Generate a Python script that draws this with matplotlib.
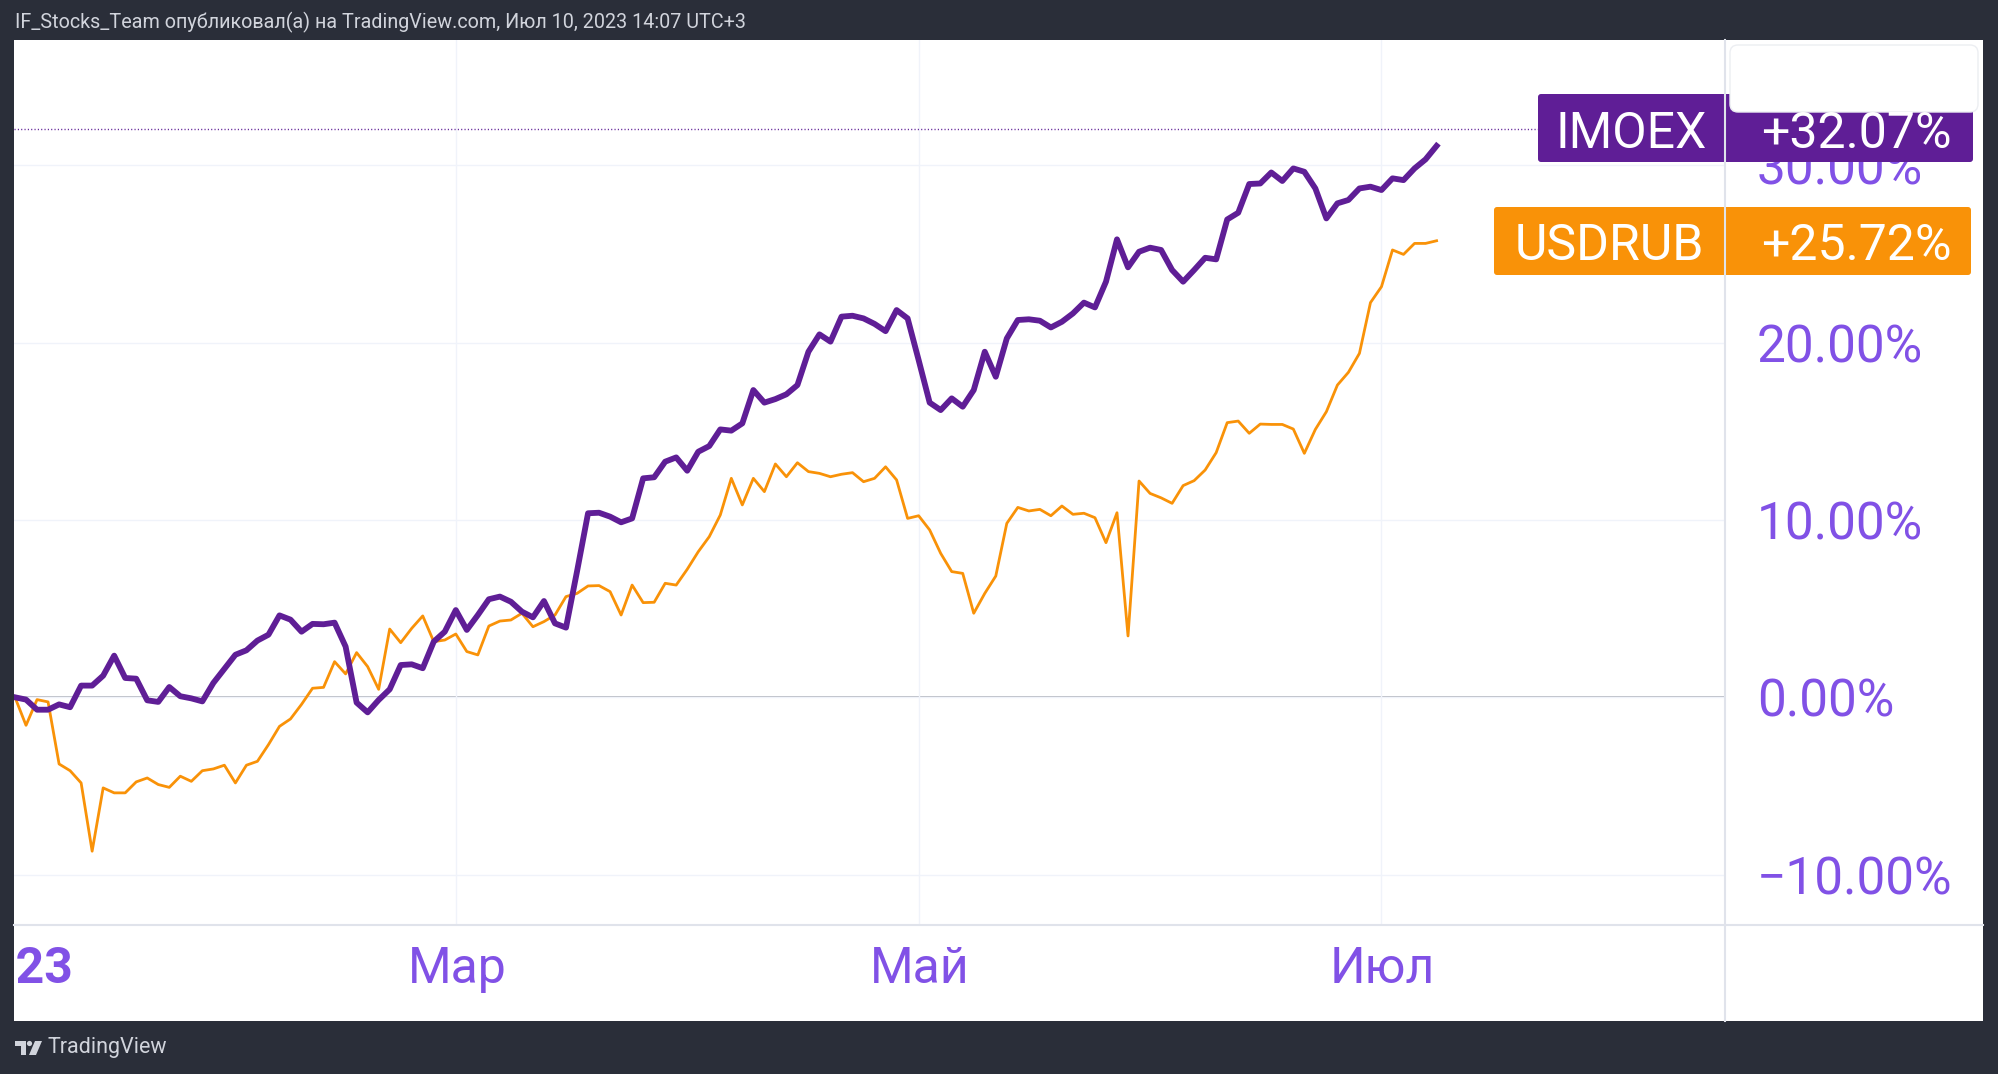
import matplotlib
matplotlib.use('Agg')
import matplotlib.pyplot as plt
import matplotlib.transforms as mtransforms
from matplotlib.patches import Rectangle, FancyBboxPatch, Polygon, Circle
from matplotlib.lines import Line2D
from matplotlib.ticker import FuncFormatter

plt.rcParams['font.family'] = ['Roboto', 'DejaVu Sans']

# ---------------- data (percent change since 3 Jan 2023, one value per trading day) ----------------
imoex = [0.0, -0.13, -0.7, -0.7, -0.4, -0.56, 0.66, 0.66, 1.22, 2.35,
         1.09, 1.05, -0.17, -0.26, 0.58, 0.06, -0.06, -0.23, 0.81, 1.6,
         2.4, 2.65, 3.2, 3.53, 4.62, 4.38, 3.7, 4.14, 4.12, 4.21,
         2.86, -0.3, -0.85, -0.15, 0.45, 1.82, 1.86, 1.64, 3.14, 3.7,
         4.92, 3.8, 4.64, 5.53, 5.68, 5.39, 4.83, 4.51, 5.43, 4.17,
         3.93, 7.1, 10.38, 10.41, 10.19, 9.87, 10.09, 12.35, 12.41, 13.29,
         13.53, 12.78, 13.85, 14.17, 15.11, 15.04, 15.45, 17.33, 16.62, 16.82,
         17.09, 17.61, 19.49, 20.47, 20.06, 21.47, 21.52, 21.37, 21.06, 20.65,
         21.84, 21.37, 19.02, 16.62, 16.2, 16.86, 16.39, 17.33, 19.49, 18.08,
         20.24, 21.28, 21.32, 21.24, 20.86, 21.18, 21.65, 22.26, 21.99, 23.44,
         25.83, 24.25, 25.13, 25.36, 25.23, 24.1, 23.44, 24.1, 24.79, 24.7,
         26.95, 27.33, 28.95, 28.98, 29.6, 29.12, 29.83, 29.64, 28.7, 27.01,
         27.86, 28.05, 28.7, 28.8, 28.61, 29.27, 29.17, 29.83, 30.34, 31.1]

usdrub = [0.0, -1.58, -0.13, -0.26, -3.76, -4.14, -4.83, -8.68, -5.11, -5.39,
          -5.39, -4.77, -4.55, -4.92, -5.08, -4.45, -4.74, -4.14, -4.04, -3.83,
          -4.83, -3.83, -3.61, -2.67, -1.64, -1.22, -0.4, 0.51, 0.56, 2.01,
          1.32, 2.52, 1.73, 0.45, 3.85, 3.08, 3.89, 4.59, 3.14, 3.23,
          3.57, 2.58, 2.39, 4.02, 4.3, 4.36, 4.74, 3.98, 4.27, 4.64,
          5.68, 5.86, 6.28, 6.3, 5.96, 4.64, 6.33, 5.34, 5.36, 6.43,
          6.33, 7.22, 8.21, 9.06, 10.28, 12.35, 10.85, 12.35, 11.6, 13.16,
          12.44, 13.23, 12.73, 12.63, 12.44, 12.58, 12.67, 12.16, 12.35, 13.0,
          12.26, 10.09, 10.24, 9.44, 8.12, 7.09, 6.99, 4.74, 5.86, 6.84,
          9.81, 10.71, 10.51, 10.6, 10.24, 10.79, 10.32, 10.38, 10.13, 8.72,
          10.41, 3.46, 12.2, 11.5, 11.25, 10.94, 11.94, 12.22, 12.82, 13.8,
          15.49, 15.58, 14.89, 15.41, 15.39, 15.39, 15.13, 13.76, 15.11, 16.11,
          17.61, 18.33, 19.4, 22.26, 23.16, 25.23, 24.98, 25.6, 25.6, 25.75]

bars = list(range(len(imoex)))
month_ticks = [0, 40, 82, 124]
month_labels = ['2023', 'Мар', 'Май', 'Июл']
y_ticks = [-10, 0, 10, 20, 30]
series_names = ['IMOEX', 'USDRUB']
last_values = [32.07, 25.72]
header = "IF_Stocks_Team опубликовал(а) на TradingView.com, Июл 10, 2023 14:07 UTC+3"
brand = "TradingView"

# ---------------- styling ----------------
W, H = 1999, 1074
BG = '#2a2e39'
PURPLE = '#5f1e96'
ORANGE = '#f99208'
LABEL = '#8151e6'
GRID = '#f0f3fa'
BORDER = '#e0e3eb'
HEAD = '#d1d4dc'
BAR_PX = 11.02          # pixel spacing of one bar
FIRST_BAR_X = 15        # pixel x of first bar
ZERO_Y = 697.3          # pixel y of 0 %
PX_PER_PCT = 17.73

fig = plt.figure(figsize=(W / 100, H / 100), dpi=100, facecolor=BG)
IDT = mtransforms.IdentityTransform()


def fx(x):
    return x / W


def fy(y):
    return 1 - y / H


def rect(x0, y0, x1, y1):
    return [fx(x0), fy(y1), fx(x1) - fx(x0), fy(y0) - fy(y1)]


def box(x0, y0, x1, y1, fc, r=3, z=5, ec='none', lw=0):
    p = FancyBboxPatch((x0, H - y1), x1 - x0, y1 - y0,
                       boxstyle=f'round,pad=0,rounding_size={r}',
                       transform=IDT, fc=fc, ec=ec, lw=lw, zorder=z)
    fig.add_artist(p)
    return p


# white panel
fig.add_artist(Rectangle((14, H - 1021), 1983 - 14, 1021 - 40, transform=IDT,
                         fc='white', ec='none', zorder=-5))

# main plot axes
PL, PR, PT, PB = 14, 1725, 40, 925
ax = fig.add_axes(rect(PL, PT, PR, PB))
ax.set_facecolor('white')
ax.set_xlim((PL - FIRST_BAR_X) / BAR_PX, (PR - FIRST_BAR_X) / BAR_PX)
ax.set_ylim((ZERO_Y - PB) / PX_PER_PCT, (ZERO_Y - PT) / PX_PER_PCT)
for s in ax.spines.values():
    s.set_visible(False)

ax.set_xticks(month_ticks[1:])
ax.set_yticks(y_ticks)
ax.grid(True, color=GRID, lw=1.0, zorder=0)
ax.tick_params(axis='x', length=0, labelbottom=False)
ax.yaxis.tick_right()
ax.yaxis.set_major_formatter(FuncFormatter(lambda v, p: f"{v:.2f}%".replace('-', '\u2212')))
ax.tick_params(axis='y', length=0, pad=23, labelsize=37, labelcolor=LABEL)

ax.axhline(0, color='#b2b5be', lw=1.3, zorder=1)
ax.plot(bars, usdrub, color=ORANGE, lw=2.0, zorder=3)
ax.plot(bars, imoex, color=PURPLE, lw=4.2, zorder=4)
ax.axhline(last_values[0], xmin=0, xmax=(1538 - PL) / (PR - PL), color=PURPLE,
           lw=1.0, ls=(0, (0.8, 1.6)), zorder=2)

# time scale
ax_t = fig.add_axes(rect(PL, PB, PR, 1021), sharex=ax)
ax_t.axis('off')
bt = mtransforms.blended_transform_factory(ax_t.transData, fig.transFigure)
for i, lab in zip(month_ticks, month_labels):
    ax_t.text(i + 0.1, fy(983), lab, transform=bt, ha='center', va='baseline',
              fontsize=36, color=LABEL, fontweight='bold' if lab == '2023' else 'normal',
              clip_on=True)

# borders
fig.add_artist(Line2D([14, 1983], [H - 925, H - 925], transform=IDT, color=BORDER, lw=1.5, zorder=2))

# last value labels
box(1538, 94, 1973, 162, PURPLE, r=3, z=5)
box(1494, 207, 1971, 275, ORANGE, r=3, z=5)
fig.add_artist(Line2D([1725, 1725], [H - 1021, H - 40], transform=IDT, color=BORDER, lw=1.5, zorder=6))
# white legend placeholder box (top right)
box(1730, 45, 1978, 112, 'white', r=8, z=7, ec='#eceef2', lw=1.0)

fig.text(fx(1631), fy(148), series_names[0], color='white', fontsize=36, ha='center', va='baseline', zorder=9)
fig.text(fx(1856), fy(148), f"+{last_values[0]:.2f}%", color='white', fontsize=36, ha='center', va='baseline', zorder=9)
fig.text(fx(1609), fy(260), series_names[1], color='white', fontsize=36, ha='center', va='baseline', zorder=9)
fig.text(fx(1856), fy(260), f"+{last_values[1]:.2f}%", color='white', fontsize=36, ha='center', va='baseline', zorder=9)

# header and footer
fig.text(fx(15), fy(22), header, color=HEAD, fontsize=14.2, ha='left', va='center')
# TradingView logo mark
fig.add_artist(Polygon([(15, H - 1041), (26, H - 1041), (26, H - 1055), (21, H - 1055),
                        (21, H - 1046), (15, H - 1046)], closed=True, transform=IDT,
                       fc=HEAD, ec='none'))
fig.add_artist(Circle((29.5, H - 1043.5), 2.6, transform=IDT, fc=HEAD, ec='none'))
fig.add_artist(Polygon([(35, H - 1041), (42, H - 1041), (36, H - 1055), (29, H - 1055)],
                       closed=True, transform=IDT, fc=HEAD, ec='none'))
fig.text(fx(48), fy(1048), brand, color=HEAD, fontsize=15.5, ha='left', va='center')

fig.savefig('out.png', dpi=100, facecolor=BG)
